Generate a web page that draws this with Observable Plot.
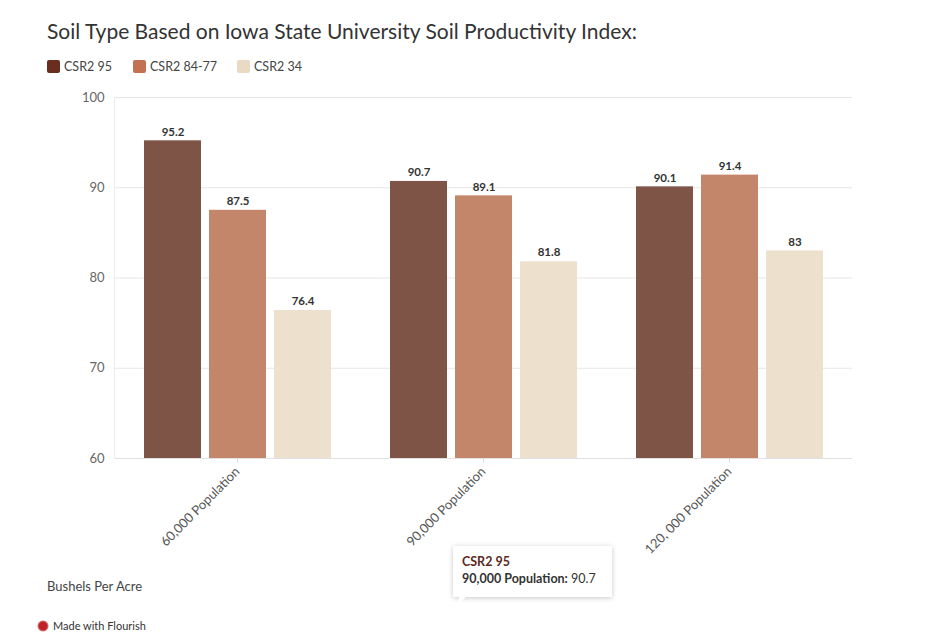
<!DOCTYPE html>
<html>
<head>
<meta charset="utf-8">
<script src="https://cdn.jsdelivr.net/npm/d3@7"></script>
<script src="https://cdn.jsdelivr.net/npm/@observablehq/plot@0.6"></script>
<style>
  html, body { margin: 0; padding: 0; background: #fff; }
  body { width: 940px; height: 637px; position: relative; overflow: hidden; font-family: "Source Sans Pro", Lato, "Noto Sans", sans-serif; }
  #chart { position: absolute; left: 0; top: 0; }
  .title { position: absolute; left: 47px; top: 18px; font-size: 21px; color: #333; white-space: nowrap; }
  .legend { position: absolute; left: 47px; top: 59px; font-size: 12.5px; color: #444; }
  .legend .item { position: absolute; top: 0; white-space: nowrap; display: flex; align-items: center; }
  .legend .sw { width: 13px; height: 13px; border-radius: 2px; margin-right: 4px; }
  .ylab { position: absolute; left: 47px; top: 578px; font-size: 13px; color: #444; }
  .made { position: absolute; left: 37px; top: 619px; font-size: 11px; color: #333; display: flex; align-items: center; }
  .made .logo { width: 12px; height: 12px; border-radius: 50%; background: radial-gradient(circle, #c0202a 45%, rgba(192,32,42,0.6) 60%, transparent 70%); margin-right: 4px; }
  .tip { position: absolute; left: 453px; top: 546px; width: 159px; height: 51px; background: #fff; box-shadow: 0 1px 5px rgba(0,0,0,0.22); font-size: 12.5px; color: #333; }
  .tip .l1 { position: absolute; left: 9px; top: 8px; font-weight: bold; color: #5b2a1e; }
  .tip .l2 { position: absolute; left: 9px; top: 25px; white-space: nowrap; }
  .tip:after { content: ""; position: absolute; left: 6px; bottom: -6px; width: 0; height: 0; border-left: 0 solid transparent; border-right: 7px solid transparent; border-top: 6px solid #fff; }
</style>
</head>
<body>
<div class="title">Soil Type Based on Iowa State University Soil Productivity Index:</div>
<div class="legend" id="legend"></div>
<div id="chart"></div>
<div class="ylab">Bushels Per Acre</div>
<div class="made"><span class="logo"></span>Made with Flourish</div>
<div class="tip"><div class="l1">CSR2 95</div><div class="l2"><b>90,000 Population:</b> 90.7</div></div>
<script>
const groups = ["60,000 Population", "90,000 Population", "120, 000 Population"];
const series = ["CSR2 95", "CSR2 84-77", "CSR2 34"];
const csr2_95 = [95.2, 90.7, 90.1];
const csr2_84_77 = [87.5, 89.1, 91.4];
const csr2_34 = [76.4, 81.8, 83];
const yTicks = [60, 70, 80, 90, 100];

const barColors = ["#7e5446", "#c4866b", "#ede0cd"];
const swatchColors = ["#6a2e20", "#c27253", "#ead9c3"];

const valuesBySeries = [csr2_95, csr2_84_77, csr2_34];
const data = [];
groups.forEach((g, gi) => {
  series.forEach((s, si) => {
    data.push({group: g, series: s, value: valuesBySeries[si][gi]});
  });
});

const legend = document.getElementById("legend");
const legendOffsets = [0, 86, 190];
series.forEach((s, i) => {
  const it = document.createElement("div");
  it.className = "item";
  it.style.left = legendOffsets[i] + "px";
  it.innerHTML = `<span class="sw" style="background:${swatchColors[i]}"></span>${s}`;
  legend.appendChild(it);
});

const chart = Plot.plot({
  width: 940,
  height: 600,
  marginTop: 97,
  marginBottom: 142,
  marginLeft: 113,
  marginRight: 88,
  style: {fontFamily: '"Source Sans Pro", Lato, "Noto Sans", sans-serif', background: "transparent"},
  fx: {domain: groups, padding: 0, label: null},
  x: {domain: series, paddingInner: 0.13, paddingOuter: 0.44, axis: null},
  y: {domain: [60, 100], label: null},
  color: {domain: series, range: barColors},
  marks: [
    Plot.gridY(yTicks, {stroke: "#e6e6e6", strokeOpacity: 1}),
    Plot.ruleY([60], {stroke: "#e0e0e0"}),
    Plot.frame({anchor: "left", stroke: "#ececec", fx: groups[0]}),
    Plot.axisY(yTicks, {tickSize: 0, tickPadding: 10, fontSize: 13, fill: "#666", label: null}),
    Plot.axisFx({anchor: "bottom", tickRotate: -45, tickSize: 5, stroke: "#ddd", tickPadding: 6, fontSize: 13, fill: "#555", label: null}),
    Plot.barY(data, {fx: "group", x: "series", y1: 60, y2: "value", fill: "series"}),
    Plot.text(data, {fx: "group", x: "series", y: "value", text: d => String(d.value), dy: -9, fontWeight: "bold", fontSize: 11.5, fill: "#333"})
  ]
});
document.getElementById("chart").appendChild(chart);
</script>
</body>
</html>
